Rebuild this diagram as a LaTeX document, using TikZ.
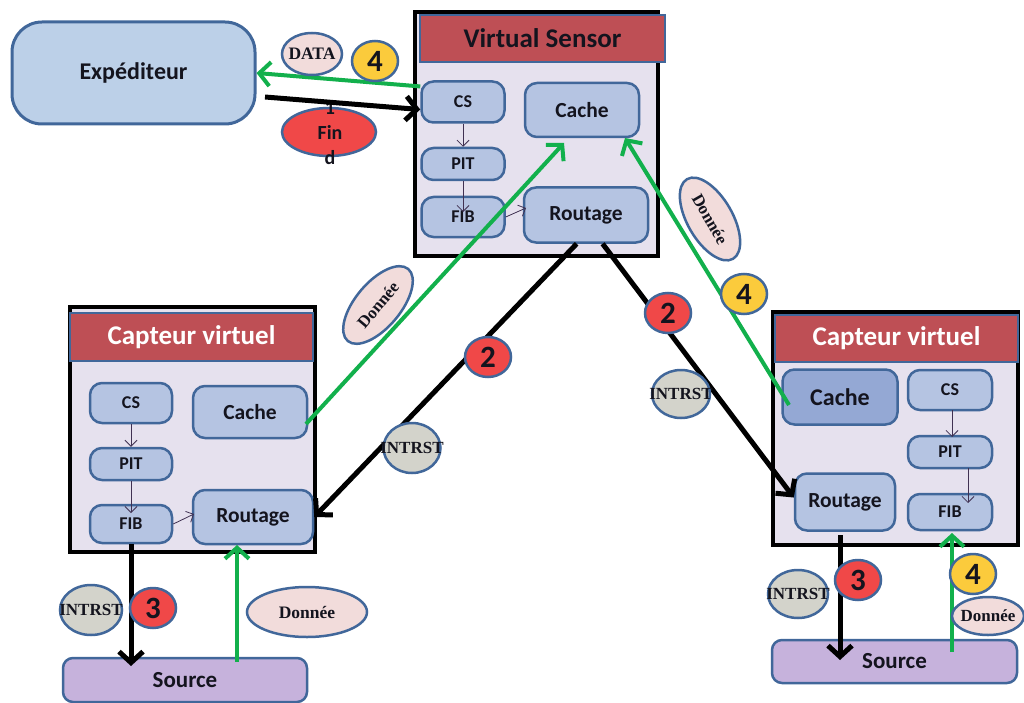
\documentclass[tikz,border=0pt]{standalone}
\usepackage{fontspec}
\setmainfont{Carlito}
\newfontfamily\tms{Liberation Serif}
\usetikzlibrary{arrows.meta,shapes.geometric}
\definecolor{bdr}{HTML}{41679A}
\definecolor{boxfill}{HTML}{B5C4E2}
\definecolor{boxdark}{HTML}{94A8D4}
\definecolor{expfill}{HTML}{BCD0E8}
\definecolor{lav}{HTML}{E6E1EE}
\definecolor{ttlred}{HTML}{BE4F55}
\definecolor{srcfill}{HTML}{C6B2DC}
\definecolor{grn}{HTML}{12B04C}
\definecolor{bred}{HTML}{F04848}
\definecolor{byel}{HTML}{FBCB3C}
\definecolor{bgrey}{HTML}{D3D3CB}
\definecolor{bpink}{HTML}{F2DCDB}
\definecolor{thinc}{HTML}{403152}
\definecolor{txt}{HTML}{14141E}
\newcommand{\zb}[1]{\makebox[0pt]{#1}}
\tikzset{
  outerbox/.style={draw=black, line width=4pt, fill=lav, inner sep=0},
  ttlbar/.style={draw=bdr, line width=1.5pt, fill=ttlred, inner sep=0, font=\bfseries\fontsize{27}{30}\selectfont},
  ibox/.style={draw=bdr, line width=2.5pt, fill=boxfill, rounded corners=12pt, inner sep=0, text=txt, font=\bfseries\fontsize{18}{20}\selectfont},
  bigtxt/.style={font=\bfseries\fontsize{21.5}{23}\selectfont},
  srcbox/.style={draw=bdr, line width=2.5pt, fill=srcfill, rounded corners=10pt, inner sep=0, text=txt, font=\bfseries\fontsize{23}{25}\selectfont},
  badge/.style={ellipse, draw=bdr, line width=2.5pt, inner sep=0, text=txt},
  numb/.style={badge, minimum width=46, minimum height=40, font=\bfseries\fontsize{31}{33}\selectfont},
  lbl/.style={badge, font=\tms\bfseries\fontsize{17}{19}\selectfont},
  blk/.style={draw=black, line width=5pt, -{Straight Barb[length=11pt,width=24pt,line width=5pt]}},
  gr/.style={draw=grn, line width=4pt, -{Straight Barb[length=11pt,width=24pt,line width=4pt]}},
  thin/.style={draw=thinc, line width=0.8pt, -{Straight Barb[length=6pt,width=12pt,line width=0.8pt]}}
}
\begin{document}
\begin{tikzpicture}[x=1pt,y=-1pt]
\useasboundingbox[fill=white] (0,0) rectangle (1024,703);

% Expediteur
\node[draw=bdr, line width=3pt, fill=expfill, rounded corners=30pt, minimum width=243, minimum height=102, text=txt, font=\bfseries\fontsize{24}{26}\selectfont] (exp) at (133.5,73) {Expéditeur};

% Virtual Sensor
\node[outerbox, minimum width=243, minimum height=244] (vsbox) at (536.5,134) {};
\node[ttlbar, minimum width=245, minimum height=47, text=txt] (vstitle) at (542.5,38.5) {Virtual Sensor};
\node[ibox, minimum width=83, minimum height=41] (vcs) at (463,102) {CS};
\node[ibox, bigtxt, minimum width=114, minimum height=54] (vcache) at (582,110) {Cache};
\node[ibox, minimum width=83, minimum height=32] (vpit) at (463,164) {PIT};
\node[ibox, minimum width=83, minimum height=40] (vfib) at (463,217) {FIB};
\node[ibox, bigtxt, minimum width=124, minimum height=55] (vrout) at (586,215) {Routage};

% Left Capteur virtuel
\node[outerbox, minimum width=245, minimum height=245] (lbox) at (192.5,429.5) {};
\node[ttlbar, minimum width=243, minimum height=48, text=white] (ltitle) at (191.5,337) {Capteur virtuel};
\node[ibox, minimum width=82, minimum height=40] (lcs) at (131,403) {CS};
\node[ibox, bigtxt, minimum width=114, minimum height=52] (lcache) at (250,412) {Cache};
\node[ibox, minimum width=82, minimum height=32] (lpit) at (131,464) {PIT};
\node[ibox, minimum width=82, minimum height=38] (lfib) at (131,524) {FIB};
\node[ibox, bigtxt, minimum width=120, minimum height=54] (lrout) at (253,517) {Routage};

% Right Capteur virtuel
\node[outerbox, minimum width=245, minimum height=233] (rbox) at (895.5,428.5) {};
\node[ttlbar, minimum width=243, minimum height=47, text=white] (rtitle) at (896.5,338.5) {Capteur virtuel};
\node[ibox, fill=boxdark, minimum width=115, minimum height=55, font=\bfseries\fontsize{24}{26}\selectfont] (rcache) at (840,397) {Cache};
\node[ibox, minimum width=84, minimum height=40] (rcs) at (950,390) {CS};
\node[ibox, minimum width=84, minimum height=32] (rpit) at (950,452) {PIT};
\node[ibox, minimum width=84, minimum height=36] (rfib) at (950,512) {FIB};
\node[ibox, bigtxt, minimum width=100, minimum height=57] (rrout) at (845,502) {Routage};

% Sources
\node[srcbox, minimum width=244, minimum height=44] (lsrc) at (185,680) {Source};
\node[srcbox, minimum width=245, minimum height=43] (rsrc) at (894.5,661.5) {Source};

% thin internal arrows
\draw[thin] (vcs.south) -- (vpit.north);
\coordinate (vfibin) at (463,212);
\draw[thin] (vpit.south) -- (vfibin);
\coordinate (vroutin) at (526,208);
\draw[thin] (vfib.east) -- (vroutin);
\draw[thin] (lcs.south) -- (lpit.north);
\coordinate (lfibin) at (131,513);
\draw[thin] (lpit.south) -- (lfibin);
\coordinate (lroutin) at (194,514);
\draw[thin] (lfib.east) -- (lroutin);
\coordinate (rcsb) at (952,410);
\coordinate (rpitt) at (952,437);
\draw[thin] (rcsb) -- (rpitt);
\coordinate (rpitb) at (968,468);
\coordinate (rfibin) at (968,503);
\draw[thin] (rpitb) -- (rfibin);

% Fin d badge (under the arrow)
\node[badge, fill=bred, minimum width=94, minimum height=48] (find) at (329,132) {};
\node[font=\bfseries\fontsize{20}{25}\selectfont, text=txt, align=center] (findtxt) at (330,133) {1\\Fin\\d};

% connectors
\coordinate (e1) at (265,97);
\draw[blk] (e1) -- (vcs.190);
\draw[gr] (vcs.160) -- (exp.east);
\draw[blk] (vrout.252) -- (lrout.east);
\draw[blk] (vrout.300) -- (rrout.175);
\coordinate (lsrcin) at (131,666);
\draw[blk] (lfib.south) -- (lsrcin);
\coordinate (rroutb) at (840,535);
\coordinate (rsrcin) at (840,660);
\draw[blk] (rroutb) -- (rsrcin);
\coordinate (lcacheout) at (306,424);
\coordinate (vcachein) at (564,143);
\draw[gr] (lcacheout) -- (vcachein);
\coordinate (rcacheout) at (789,405);
\coordinate (vcachein2) at (625,138);
\draw[gr] (rcacheout) -- (vcachein2);
\coordinate (lsrcout) at (237,662);
\coordinate (lroutb) at (237,545);
\draw[gr] (lsrcout) -- (lroutb);
\coordinate (rsrcout) at (952,652);
\coordinate (rfibb) at (952,533);
\draw[gr] (rsrcout) -- (rfibb);

% badges
\node[lbl, fill=bpink, minimum width=60, minimum height=42, font=\tms\bfseries\fontsize{17.5}{19}\selectfont] (data) at (312,54) {\zb{DATA}};
\node[numb, fill=byel] (n4a) at (375,61) {4};
\node[numb, fill=bred] (n2a) at (488,357) {2};
\node[numb, fill=bred] (n2b) at (668,313) {2};
\node[lbl, fill=bgrey, minimum width=57, minimum height=50] (i1) at (412,448) {\zb{INTRST}};
\node[lbl, fill=bgrey, minimum width=58, minimum height=48] (i2) at (681,394) {\zb{INTRST}};
\node[lbl, fill=bpink, minimum width=94, minimum height=45, rotate=50] (d1) at (378,305) {\zb{Donnée}};
\node[lbl, fill=bpink, minimum width=92, minimum height=45, rotate=-60] (d2) at (710,219) {\zb{Donnée}};
\node[numb, fill=byel] (n4b) at (744,294) {4};
\node[lbl, fill=bgrey, minimum width=62, minimum height=50] (i3) at (91,610) {\zb{INTRST}};
\node[numb, fill=bred] (n3a) at (153,608) {3};
\node[lbl, fill=bpink, minimum width=120, minimum height=50, font=\tms\bfseries\fontsize{17.5}{19}\selectfont] (d3) at (307,612) {\zb{Donnée}};
\node[lbl, fill=bgrey, minimum width=60, minimum height=48] (i4) at (798,594) {\zb{INTRST}};
\node[numb, fill=bred] (n3b) at (858,580) {3};
\node[numb, fill=byel] (n4c) at (973,574) {4};
\node[lbl, fill=bpink, minimum width=72, minimum height=38] (d4) at (988,616) {\zb{Donnée}};
\end{tikzpicture}
\end{document}
